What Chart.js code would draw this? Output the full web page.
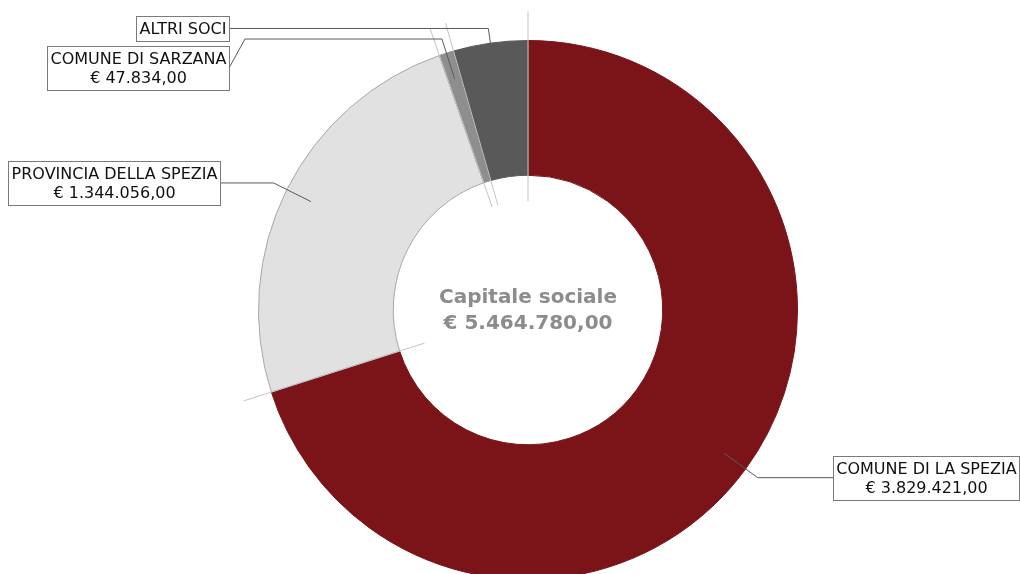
<!DOCTYPE html>
<html>
<head>
<meta charset="utf-8">
<script src="https://cdn.jsdelivr.net/npm/chart.js@4/dist/chart.umd.min.js"></script>
<style>
html,body{margin:0;padding:0;background:#fff;overflow:hidden;width:1020px;height:574px;}
#wrap{position:absolute;left:0;top:0;width:1020px;height:620px;}
</style>
</head>
<body>
<div id="wrap"><canvas id="c" width="1020" height="620"></canvas></div>
<script>
const categories = ['COMUNE DI LA SPEZIA', 'PROVINCIA DELLA SPEZIA', 'COMUNE DI SARZANA', 'ALTRI SOCI'];
const values = [3829421, 1344056, 47834, 243469];
const showValue = [true, true, true, false];
const centerTitle = 'Capitale sociale';

const colors = ['#7a1418', '#e1e1e1', '#8e8e8e', '#595959'];
const borders = ['#7a1418', '#a8a8a8', '#8e8e8e', '#595959'];

function fmtEuro(v) {
  const parts = v.toFixed(2).split('.');
  const intPart = parts[0].replace(/\B(?=(\d{3})+(?!\d))/g, '.');
  return '€ ' + intPart + ',' + parts[1];
}
const total = values.reduce((a, b) => a + b, 0);

// label box layout (side of chart, box edge x, optional bend x, optional box centre y)
const labelLayout = [
  { side: 'right', bx: 833 },
  { side: 'left', bx: 220 },
  { side: 'left', bx: 229, via: 245, by: 68 },
  { side: 'left', bx: 229 }
];

const FONT = '16px "DejaVu Sans", sans-serif';

const overlay = {
  id: 'overlay',
  afterDatasetsDraw(chart) {
    const ctx = chart.ctx;
    const meta = chart.getDatasetMeta(0);
    ctx.save();
    // separator lines at slice boundaries
    ctx.strokeStyle = '#c4c4c4';
    ctx.lineWidth = 1;
    meta.data.forEach(arc => {
      const p = arc.getProps(['x', 'y', 'startAngle', 'innerRadius', 'outerRadius'], true);
      const a = p.startAngle;
      const r0 = p.innerRadius - 26, r1 = p.outerRadius + 29;
      ctx.beginPath();
      ctx.moveTo(p.x + Math.cos(a) * r0, p.y + Math.sin(a) * r0);
      ctx.lineTo(p.x + Math.cos(a) * r1, p.y + Math.sin(a) * r1);
      ctx.stroke();
    });
    // leader lines + boxes
    ctx.font = FONT;
    meta.data.forEach((arc, i) => {
      const p = arc.getProps(['x', 'y', 'startAngle', 'endAngle', 'innerRadius', 'outerRadius'], true);
      const mid = (p.startAngle + p.endAngle) / 2;
      const R = p.outerRadius;
      const sx = p.x + Math.cos(mid) * R * 0.9, sy = p.y + Math.sin(mid) * R * 0.9;
      const ex = p.x + Math.cos(mid) * R * 1.055, ey = p.y + Math.sin(mid) * R * 1.055;
      const L = labelLayout[i];
      const by = L.by !== undefined ? L.by : ey;
      ctx.strokeStyle = '#5a5a5a';
      ctx.lineWidth = 1;
      ctx.beginPath();
      ctx.moveTo(sx, sy);
      ctx.lineTo(ex, ey);
      if (L.via !== undefined) { ctx.lineTo(L.via, ey); }
      ctx.lineTo(L.bx, by);
      ctx.stroke();

      const lines = [categories[i]];
      if (showValue[i]) lines.push(fmtEuro(values[i]));
      const tw = Math.max(...lines.map(t => ctx.measureText(t).width));
      const lh = 19;
      const w = Math.round(tw + 6), h = lines.length * lh + 6;
      const bx = L.side === 'right' ? L.bx : L.bx - w;
      const top = Math.round(by - h / 2);
      ctx.fillStyle = '#fff';
      ctx.fillRect(bx + 0.5, top + 0.5, w, h);
      ctx.strokeStyle = '#7a7a7a';
      ctx.strokeRect(bx + 0.5, top + 0.5, w, h);
      ctx.fillStyle = '#111';
      ctx.textAlign = 'center';
      ctx.textBaseline = 'middle';
      lines.forEach((t, k) => ctx.fillText(t, bx + w / 2 + 0.5, top + 3 + lh * k + lh / 2 + 1));
    });
    // centre text
    const a0 = meta.data[0];
    ctx.fillStyle = '#8c8c8c';
    ctx.font = 'bold 20px "DejaVu Sans", sans-serif';
    ctx.textAlign = 'center';
    ctx.textBaseline = 'middle';
    ctx.fillText(centerTitle, a0.x, a0.y - 12);
    ctx.fillText(fmtEuro(total), a0.x, a0.y + 14);
    ctx.restore();
  }
};

new Chart(document.getElementById('c'), {
  type: 'doughnut',
  data: {
    labels: categories,
    datasets: [{
      data: values,
      backgroundColor: colors,
      borderColor: borders,
      borderWidth: 1
    }]
  },
  options: {
    responsive: false,
    animation: false,
    cutout: '50%',
    layout: { padding: { left: 258, right: 222, top: 40, bottom: 40 } },
    plugins: { legend: { display: false }, tooltip: { enabled: false } }
  },
  plugins: [overlay]
});
</script>
</body>
</html>
